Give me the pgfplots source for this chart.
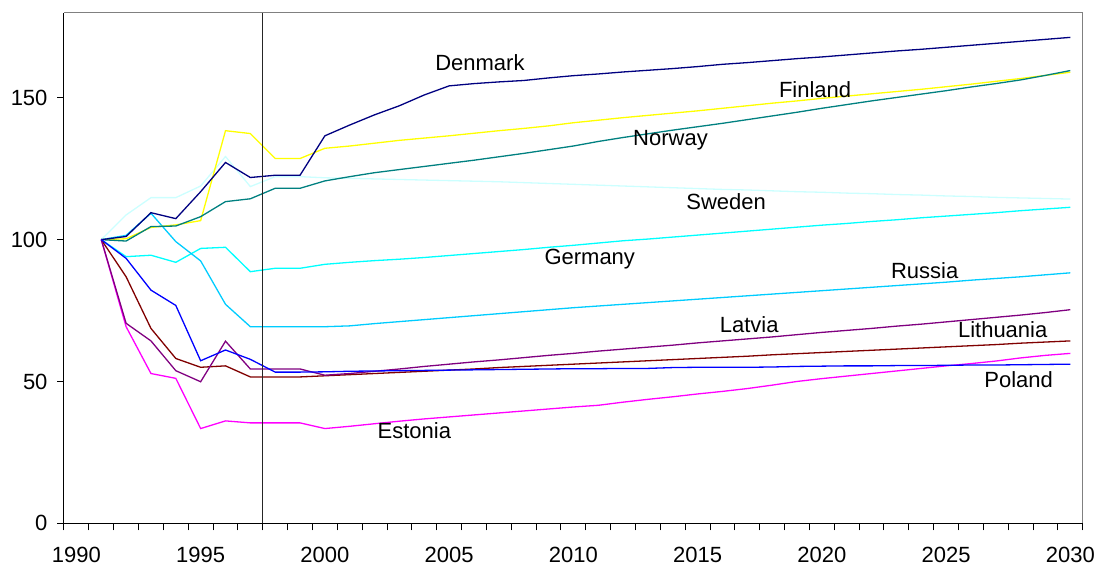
\documentclass[border=0pt]{standalone}
\usepackage{pgfplots}
\pgfplotsset{compat=1.18}
\usepackage{pgfplotstable}
\usepackage{fontspec}
\setmainfont{Liberation Sans}
\definecolor{cDen}{RGB}{0,0,128}
\definecolor{cFin}{RGB}{255,255,0}
\definecolor{cNor}{RGB}{0,128,128}
\definecolor{cSwe}{RGB}{204,255,255}
\definecolor{cGer}{RGB}{0,255,255}
\definecolor{cRus}{RGB}{0,204,255}
\definecolor{cPol}{RGB}{0,0,255}
\definecolor{cLat}{RGB}{128,0,128}
\definecolor{cLit}{RGB}{128,0,0}
\definecolor{cEst}{RGB}{255,0,255}
\pgfplotstableread{
year Den Fin Nor Swe Ger Rus Pol Lat Lit Est
1991 100 100 100 100 100 100 100 100 100 100
1992 101.1 100.3 99.5 108.7 94.0 101.5 93.4 70.5 86.9 69.3
1993 109.5 104.3 104.6 114.8 94.5 109.3 82.2 64.3 68.7 52.8
1994 107.4 105.2 104.8 114.8 92.0 99.3 76.8 53.8 58.1 51.1
1995 116.9 106.7 108.1 118.9 96.9 92.5 57.3 49.9 55.0 33.4
1996 127.2 138.4 113.4 129.3 97.3 77.2 61.1 64.2 55.5 36.1
1997 121.9 137.4 114.4 118.7 88.7 69.3 57.8 54.4 51.6 35.4
1998 122.7 128.6 118.1 122.2 89.9 69.3 53.3 54.4 51.6 35.4
1999 122.7 128.6 118.1 122.2 89.9 69.3 53.3 54.4 51.6 35.4
2000 136.6 132.2 120.7 121.8 91.3 69.3 53.4 52.2 52.0 33.4
2001 140.4 133.0 122.2 121.6 92.0 69.6 53.6 52.8 52.4 34.2
2002 144.0 134.0 123.6 121.4 92.6 70.4 53.7 53.6 52.8 35.1
2003 147.2 135.0 124.7 121.2 93.1 71.1 53.8 54.4 53.2 36.0
2004 151.0 135.8 125.8 121.0 93.7 71.8 53.9 55.3 53.6 36.8
2005 154.2 136.6 126.9 120.8 94.4 72.5 54.0 56.1 54.0 37.5
2006 155.0 137.5 128.0 120.6 95.1 73.2 54.1 56.9 54.4 38.2
2007 155.6 138.4 129.2 120.4 95.8 73.9 54.2 57.6 54.9 38.9
2008 156.1 139.2 130.4 120.1 96.5 74.6 54.3 58.4 55.3 39.6
2009 157.0 140.1 131.7 119.8 97.3 75.3 54.4 59.2 55.7 40.3
2010 157.8 141.2 133.0 119.5 98.0 76.0 54.5 59.9 56.1 41.0
2011 158.4 142.1 134.6 119.2 98.8 76.6 54.5 60.7 56.5 41.6
2012 159.1 143.0 136.0 118.9 99.6 77.2 54.6 61.4 56.9 42.7
2013 159.7 143.8 137.3 118.6 100.2 77.8 54.6 62.1 57.3 43.7
2014 160.3 144.6 138.6 118.3 100.9 78.4 54.9 62.8 57.7 44.6
2015 161.0 145.4 139.8 118.0 101.6 79.0 55.0 63.6 58.1 45.6
2016 161.8 146.3 141.0 117.7 102.3 79.6 55.0 64.3 58.5 46.5
2017 162.4 147.2 142.3 117.5 103.0 80.2 55.0 65.0 58.9 47.5
2018 163.1 148.1 143.6 117.2 103.7 80.8 55.1 65.7 59.4 48.7
2019 163.8 148.9 144.9 116.9 104.4 81.4 55.3 66.5 59.8 50.0
2020 164.4 149.8 146.3 116.7 105.1 82.0 55.4 67.3 60.2 51.0
2021 165.1 150.6 147.6 116.4 105.7 82.6 55.5 68.0 60.6 51.9
2022 165.8 151.4 148.9 116.2 106.4 83.2 55.5 68.7 61.0 52.8
2023 166.5 152.2 150.1 115.9 107.0 83.8 55.6 69.5 61.4 53.7
2024 167.1 153.0 151.3 115.7 107.7 84.4 55.6 70.2 61.8 54.6
2025 167.8 153.9 152.5 115.4 108.3 85.0 55.7 71.0 62.2 55.5
2026 168.5 154.8 153.8 115.2 108.9 85.7 55.8 71.8 62.6 56.3
2027 169.2 155.8 155.0 114.9 109.5 86.3 55.8 72.6 63.0 57.2
2028 169.9 156.8 156.3 114.7 110.2 86.9 55.9 73.4 63.5 58.3
2029 170.6 157.9 157.9 114.5 110.8 87.6 56.0 74.3 63.9 59.2
2030 171.3 159.0 159.6 114.3 111.4 88.3 56.1 75.3 64.3 59.9
}\data
\begin{document}
\begin{tikzpicture}
\begin{axis}[
  scale only axis,
  width=1018.7pt, height=510.6pt,
  xmin=1989.5, xmax=2030.5, ymin=0, ymax=180,
  axis x line*=bottom, axis y line*=left,
  axis line style={black, line width=1pt},
  tick align=outside,
  major tick length=7pt,
  tick style={black, line width=1pt},
  xtick={1989.5,1990.5,...,2030.5},
  xticklabels={},
  extra x ticks={1990,1995,2000,2005,2010,2015,2020,2025,2030},
  extra x tick labels={1990,1995,2000,2005,2010,2015,2020,2025,2030},
  extra x tick style={major tick length=0pt, xticklabel style={yshift=-20.5pt}},
  ytick={0,50,100,150},
  yticklabel style={xshift=-6pt},
  /pgf/number format/assume math mode=true,
  /pgf/number format/1000 sep={},
  tick label style={font=\fontsize{22}{26}\selectfont},
  clip=false,
  every axis plot/.append style={line width=1.3pt, no markers},
]
\draw[gray, line width=1pt] (rel axis cs:0,1) -- (rel axis cs:1,1) -- (rel axis cs:1,0);
\addplot[cSwe] table[x=year,y=Swe]{\data};
\addplot[cGer] table[x=year,y=Ger]{\data};
\addplot[cRus] table[x=year,y=Rus]{\data};
\addplot[cFin] table[x=year,y=Fin]{\data};
\addplot[cNor] table[x=year,y=Nor]{\data};
\addplot[cDen] table[x=year,y=Den]{\data};
\addplot[cEst] table[x=year,y=Est]{\data};
\addplot[cLit] table[x=year,y=Lit]{\data};
\addplot[cLat] table[x=year,y=Lat]{\data};
\addplot[cPol] table[x=year,y=Pol]{\data};
\addplot[black!85, line width=1.3pt] coordinates {(1997.5,0) (1997.5,180)};
\begin{scope}[every node/.style={font=\fontsize{22}{26}\selectfont, inner sep=0pt}]
\node at (axis cs:2006.24,162.4) {Denmark};
\node at (axis cs:2019.73,152.8) {Finland};
\node at (axis cs:2013.91,135.2) {Norway};
\node at (axis cs:2016.15,113.3) {Sweden};
\node at (axis cs:2010.66,93.2) {Germany};
\node at (axis cs:2024.14,88.9) {Russia};
\node at (axis cs:2017.08,69.9) {Latvia};
\node at (axis cs:2027.28,68.1) {Lithuania};
\node at (axis cs:2027.92,50.8) {Poland};
\node at (axis cs:2003.6,32.8) {Estonia};
\end{scope}
\end{axis}
\pgfresetboundingbox
\path ([shift={(-64pt,-43.7pt)}]current axis.south west) rectangle ([shift={(14.3pt,12.7pt)}]current axis.north east);
\end{tikzpicture}
\end{document}
